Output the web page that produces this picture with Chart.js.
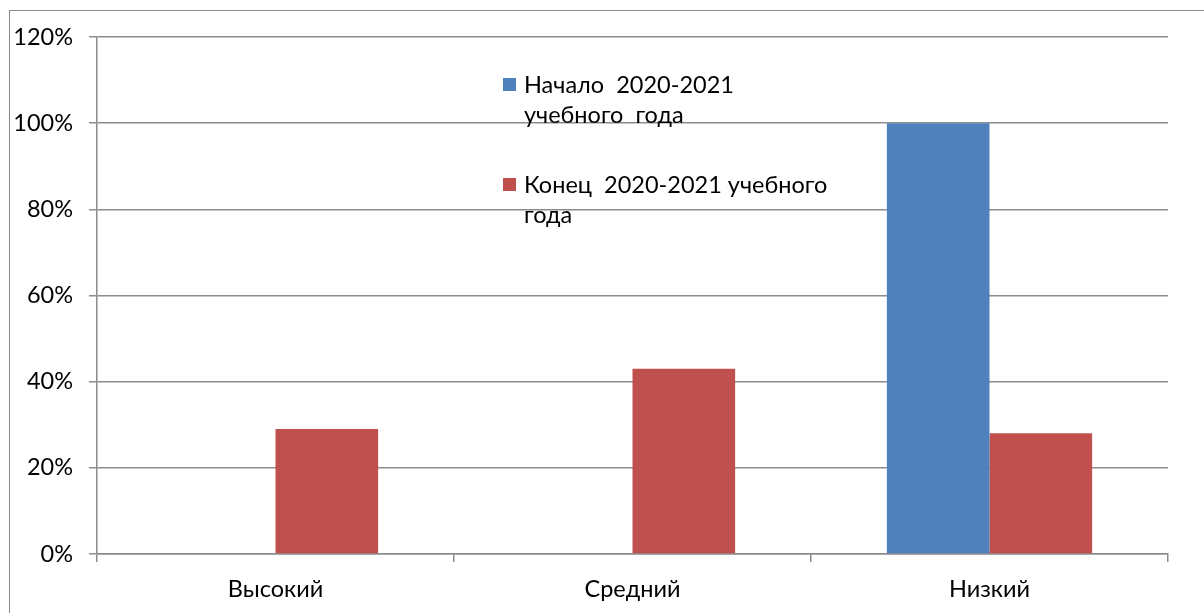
<!DOCTYPE html>
<html>
<head>
<meta charset="utf-8">
<script src="https://cdn.jsdelivr.net/npm/chart.js@4"></script>
<style>
  html, body { margin: 0; padding: 0; background: #fff; }
  #wrap { position: relative; width: 1204px; height: 613px; overflow: hidden; }
  #frame { position: absolute; left: 9px; top: 10px; width: 1300px; height: 700px;
           border-top: 1.5px solid #8a8a8a; border-left: 1.5px solid #8a8a8a; }
  canvas { position: absolute; left: 0; top: 0; }
  .leg { position: absolute; font-family: Lato, "Open Sans", sans-serif; font-size: 23.5px;
         line-height: 30px; color: #000; white-space: pre; }
  .sw { position: absolute; width: 13px; height: 13px; }
</style>
</head>
<body>
<div id="wrap">
  <div id="frame"></div>
  <canvas id="c" width="1204" height="613"></canvas>
  <div class="sw" style="left:503px;top:78px;background:#4F81BD"></div>
  <div class="leg" style="left:524px;top:69px">Начало  2020-2021
учебного  года</div>
  <div class="sw" style="left:503px;top:178px;background:#C0504D"></div>
  <div class="leg" style="left:524px;top:169px">Конец  2020-2021 учебного
года</div>
</div>
<script>
// categories and series (percent)
const categories = ['Высокий', 'Средний', 'Низкий'];
const startYear = [0, 0, 100];
const endYear = [29, 43, 28];
const seriesNames = ['Начало  2020-2021 учебного  года', 'Конец  2020-2021 учебного года'];

const gridColor = '#8c8c8c';
const font = { family: 'Lato, "Open Sans", sans-serif', size: 23.5 };

new Chart(document.getElementById('c'), {
  type: 'bar',
  data: {
    labels: categories,
    datasets: [
      { label: seriesNames[0], data: startYear, backgroundColor: '#4F81BD' },
      { label: seriesNames[1], data: endYear, backgroundColor: '#C0504D' }
    ]
  },
  options: {
    responsive: false,
    animation: false,
    layout: { padding: { top: 37, right: 36, left: 0, bottom: 0 } },
    plugins: { legend: { display: false }, tooltip: { enabled: false } },
    datasets: { bar: { categoryPercentage: 0.575, barPercentage: 1 } },
    scales: {
      x: {
        grid: { display: true, drawOnChartArea: false, drawTicks: true, tickLength: 8,
                color: gridColor, lineWidth: 1.5, offset: true },
        border: { color: gridColor, width: 1.5 },
        ticks: { color: '#000', font: font, padding: 13 },
        afterFit: s => { s.height = 59; }
      },
      y: {
        min: 0, max: 120,
        grid: { color: gridColor, lineWidth: 1.5, tickLength: 8 },
        border: { color: gridColor, width: 1.5 },
        ticks: { stepSize: 20, color: '#000', font: font, padding: 16,
                 callback: v => v + '%' },
        afterFit: s => { s.width = 97; }
      }
    }
  }
});
</script>
</body>
</html>
